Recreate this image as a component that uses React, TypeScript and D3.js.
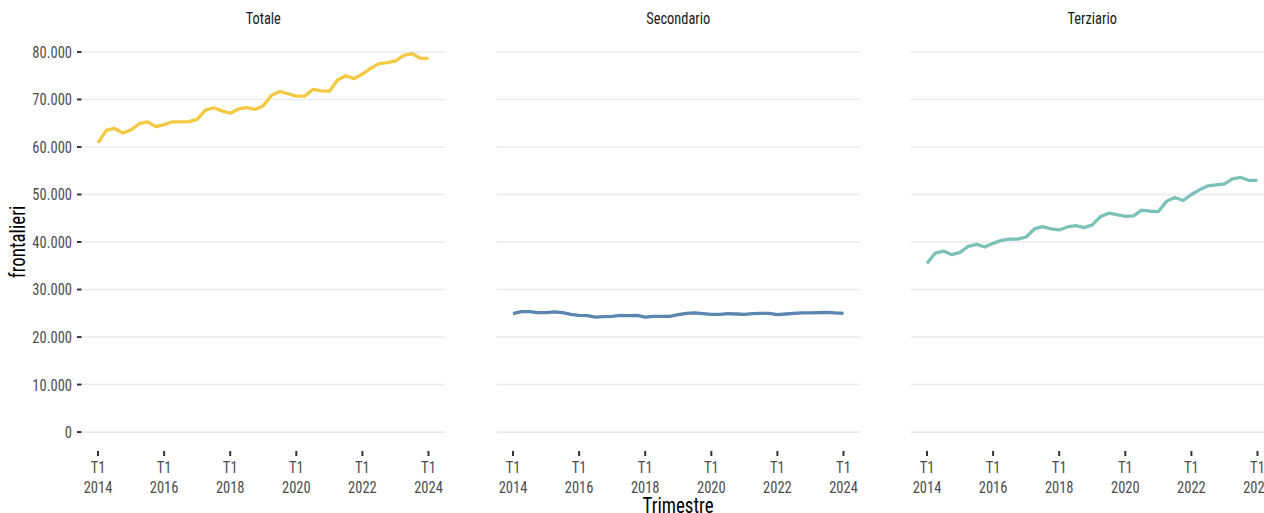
import React from "react";
import * as d3 from "d3";

const quarters: string[] = [];
for (let y = 2014; y <= 2024; y++) for (let q = 1; q <= 4; q++) if (!(y === 2024 && q > 1)) quarters.push(`T${q} ${y}`);

const panels = ["Totale", "Secondario", "Terziario"];

const totale = [60850, 63500, 63900, 62950, 63600, 64900, 65300, 64300, 64700, 65300, 65300, 65350, 65800, 67750, 68250, 67600, 67100, 68000, 68300, 67900, 68700, 70900, 71700, 71200, 70700, 70700, 72100, 71800, 71750, 74100, 75000, 74400, 75350, 76550, 77550, 77750, 78100, 79300, 79650, 78700, 78650];
const secondario = [24930, 25360, 25360, 25150, 25150, 25300, 25150, 24780, 24570, 24500, 24200, 24280, 24350, 24570, 24500, 24570, 24200, 24350, 24350, 24350, 24700, 25000, 25070, 24930, 24780, 24780, 24930, 24850, 24780, 24930, 25000, 25000, 24700, 24850, 25000, 25070, 25070, 25150, 25200, 25070, 25000];
const terziario = [35500, 37680, 38100, 37330, 37820, 39080, 39510, 38940, 39720, 40350, 40630, 40630, 41060, 42750, 43240, 42750, 42540, 43170, 43450, 43030, 43590, 45350, 46060, 45770, 45420, 45490, 46690, 46480, 46410, 48590, 49370, 48730, 50000, 50990, 51830, 52040, 52250, 53310, 53590, 52960, 52960];

const seriesValues = [totale, secondario, terziario];
const colors = ["#F4C842", "#5B86B2", "#7CC2B8"];

const yTicks = [0, 10000, 20000, 30000, 40000, 50000, 60000, 70000, 80000];
const xTickIdx = [0, 8, 16, 24, 32, 40];

const W = 1264;
const H = 513;
const panelLeft = [81.5, 496.5, 910.5];
const panelW = 363.5;
const panelTop = 34.7;
const panelBottom = 451;
const FONT = "'Roboto Condensed', 'Liberation Sans Narrow', 'DejaVu Sans Condensed', sans-serif";

const fmt = (v: number) => d3.format(",")(v).replace(/,/g, ".");

function CText(props: { x: number; y: number; sx?: number; size: number; fill: string; anchor: string; dy?: string; rotate?: number; children: React.ReactNode }) {
  const { x, y, sx = 0.88, size, fill, anchor, dy, rotate = 0, children } = props;
  return (
    <text transform={`translate(${x},${y}) rotate(${rotate}) scale(${sx},1)`} textAnchor={anchor} fontSize={size} fill={fill} dy={dy}>
      {children}
    </text>
  );
}

export default function App() {
  const maxV = d3.max(seriesValues.flat()) as number;
  const ext = maxV * 0.05;
  const y = d3.scaleLinear().domain([-ext, maxV + ext]).range([panelBottom, panelTop]);
  const n = quarters.length;

  return (
    <svg width={W} height={H} style={{ position: "absolute", left: 0, top: 0, background: "#fff" }} fontFamily={FONT}>
      {panels.map((name, p) => {
        const x = d3.scaleLinear().domain([-2, n + 1]).range([panelLeft[p], panelLeft[p] + panelW]);
        const line = d3.line<number>().x((_, i) => x(i)).y((d) => y(d));
        return (
          <g key={name}>
            {yTicks.map((t) => (
              <line key={t} x1={panelLeft[p]} x2={panelLeft[p] + panelW} y1={y(t)} y2={y(t)} stroke="#ebebeb" strokeWidth={1.6} />
            ))}
            <CText x={panelLeft[p] + panelW / 2} y={24} size={16} sx={0.9} anchor="middle" fill="#1a1a1a">{name}</CText>
            <path d={line(seriesValues[p]) as string} fill="none" stroke={colors[p]} strokeWidth={3.3} strokeLinejoin="round" strokeLinecap="butt" />
            {xTickIdx.map((i) => {
              const [q, yr] = quarters[i].split(" ");
              return (
                <g key={i}>
                  <line x1={x(i)} x2={x(i)} y1={panelBottom} y2={panelBottom + 5} stroke="#333" strokeWidth={2} />
                  <CText x={x(i)} y={472.5} size={16.5} anchor="middle" fill="#4d4d4d">{q}</CText>
                  <CText x={x(i)} y={492.5} size={16.5} anchor="middle" fill="#4d4d4d">{yr}</CText>
                </g>
              );
            })}
            {p === 0 && yTicks.map((t) => (
              <g key={"y" + t}>
                <line x1={panelLeft[0] - 4.5} x2={panelLeft[0]} y1={y(t)} y2={y(t)} stroke="#333" strokeWidth={2} />
                <CText x={72} y={y(t)} dy="0.36em" size={16.5} anchor="end" fill="#4d4d4d">{fmt(t)}</CText>
              </g>
            ))}
          </g>
        );
      })}
      <CText x={678} y={513} size={22} sx={0.86} anchor="middle" fill="#000">Trimestre</CText>
      <CText x={25} y={242} size={22} sx={0.86} rotate={-90} anchor="middle" fill="#000">frontalieri</CText>
    </svg>
  );
}
